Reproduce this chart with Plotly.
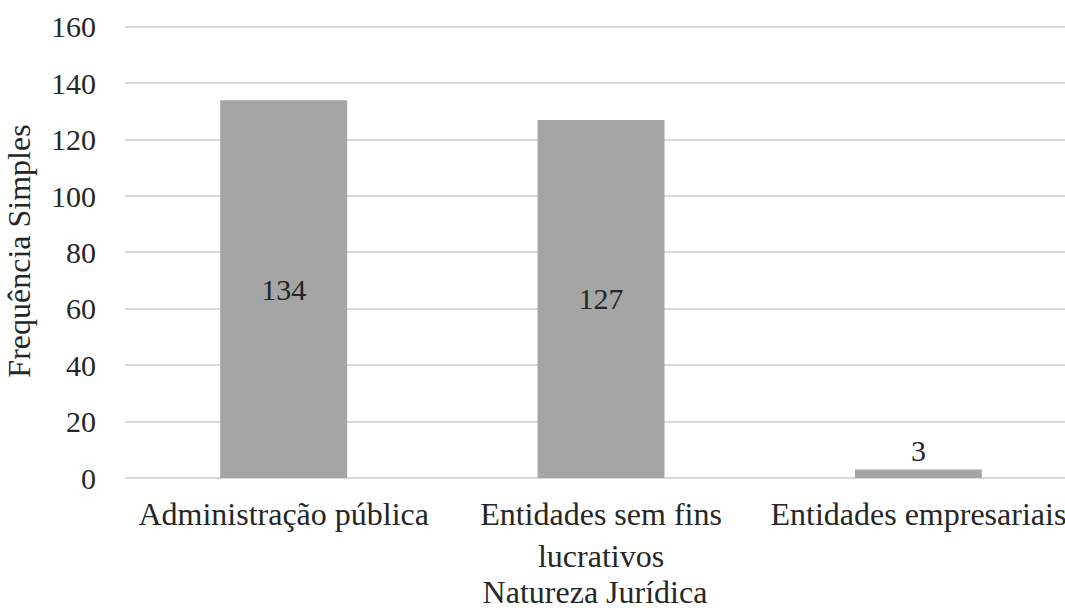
import plotly.graph_objects as go

# Natureza jurídica das entidades e frequência simples
categorias = ["Administração pública", "Entidades sem fins<br>lucrativos", "Entidades empresariais"]
frequencias = [134, 127, 3]
posicao_rotulo = ["inside", "inside", "outside"]

FONTE = "Liberation Serif, Times New Roman, serif"
COR_TEXTO = "#262626"
TAM_NUM = 30
TAM_TXT = 32

fig = go.Figure(
    go.Bar(
        x=categorias,
        y=frequencias,
        width=0.4,
        marker=dict(color="#A5A5A5", line=dict(width=0)),
        text=[str(v) for v in frequencias],
        textposition=posicao_rotulo,
        insidetextanchor="middle",
        textfont=dict(family=FONTE, size=TAM_NUM, color=COR_TEXTO),
        cliponaxis=False,
    )
)

fig.update_layout(
    width=1065,
    height=610,
    margin=dict(l=125, r=0, t=24, b=132),
    paper_bgcolor="white",
    plot_bgcolor="white",
    showlegend=False,
    font=dict(family=FONTE, size=TAM_NUM, color=COR_TEXTO),
    uniformtext=dict(mode=False),
    bargap=0.6,
)

fig.update_xaxes(
    range=[-0.5, 2.462],
    showgrid=False,
    showline=False,
    ticks="",
    ticklabelstandoff=14,
    tickfont=dict(family=FONTE, size=TAM_TXT, color=COR_TEXTO),
    title=dict(text="Natureza Jurídica", standoff=14,
               font=dict(family=FONTE, size=TAM_TXT, color=COR_TEXTO)),
    automargin=False,
)

fig.update_yaxes(
    range=[0, 161],
    tickvals=[0, 20, 40, 60, 80, 100, 120, 140, 160],
    showgrid=True,
    gridcolor="#D9D9D9",
    gridwidth=2,
    zeroline=True,
    zerolinecolor="#D9D9D9",
    zerolinewidth=2,
    showline=False,
    ticks="",
    ticklabelstandoff=28,
    tickfont=dict(family=FONTE, size=TAM_NUM, color=COR_TEXTO),
    title=dict(text="Frequência Simples", standoff=10,
               font=dict(family=FONTE, size=TAM_TXT, color=COR_TEXTO)),
    automargin=False,
)

fig.write_html("out.html")
